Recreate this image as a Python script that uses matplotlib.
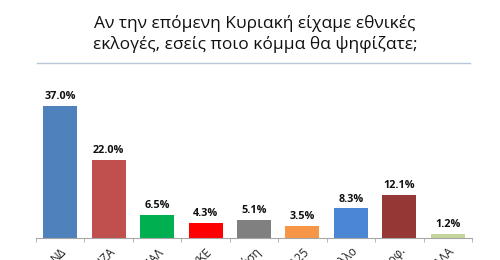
import matplotlib
matplotlib.use("Agg")
import matplotlib.pyplot as plt
from matplotlib.lines import Line2D

# Data
parties = ["ΝΔ", "ΣΥΡΙΖΑ", "ΚΙΝΑΛ", "ΚΚΕ", "Ελληνική Λύση", "ΜέΡΑ25", "Άλλο", "Αναποφ.", "ΑΛΛΑ"]
shares = [37.0, 22.0, 6.5, 4.3, 5.1, 3.5, 8.3, 12.1, 1.2]
colors = ["#4F81BD", "#C0504D", "#00B050", "#FF0000", "#808080",
          "#F79646", "#4A86D4", "#953735", "#C3D69B"]

title = "Αν την επόμενη Κυριακή είχαμε εθνικές\nεκλογές, εσείς ποιο κόμμα θα ψηφίζατε;"

plt.rcParams["font.family"] = ["Open Sans", "DejaVu Sans"]

fig = plt.figure(figsize=(5, 2.6), dpi=100)
ax = fig.add_axes([0.072, 0.0846, 0.872, 0.55])

x = range(len(parties))
ax.bar(x, shares, width=0.7, color=colors, zorder=2)
for xi, v in zip(x, shares):
    ax.text(xi, v + 1.0, f"{v:.1f}%", ha="center", va="bottom",
            fontsize=7.8, fontweight="bold", color="#111111")

ax.set_xlim(-0.5, len(parties) - 0.5)
ax.set_ylim(0, 37.0 * 143 / 132)
ax.set_yticks([])
for s in ["top", "right", "left"]:
    ax.spines[s].set_visible(False)
ax.spines["bottom"].set_color("#A6A6A6")
ax.spines["bottom"].set_linewidth(0.8)

ax.set_xticks(list(x))
ax.set_xticklabels(parties, rotation=45, ha="right", rotation_mode="anchor",
                   fontsize=8.5, color="#222222")
ax.tick_params(axis="x", length=0, pad=5)
# boundary tick marks
ax.set_xticks([i - 0.5 for i in range(len(parties) + 1)], minor=True)
ax.tick_params(axis="x", which="minor", length=3, color="#A6A6A6")

fig.text(0.51, 0.87, title, ha="center", va="center", fontsize=12.5,
         color="#111111", linespacing=1.3)
fig.add_artist(Line2D([0.074, 0.94], [0.758, 0.758], color="#B8C7D8",
                      linewidth=1.0, transform=fig.transFigure))

fig.savefig("out.png", dpi=100)
